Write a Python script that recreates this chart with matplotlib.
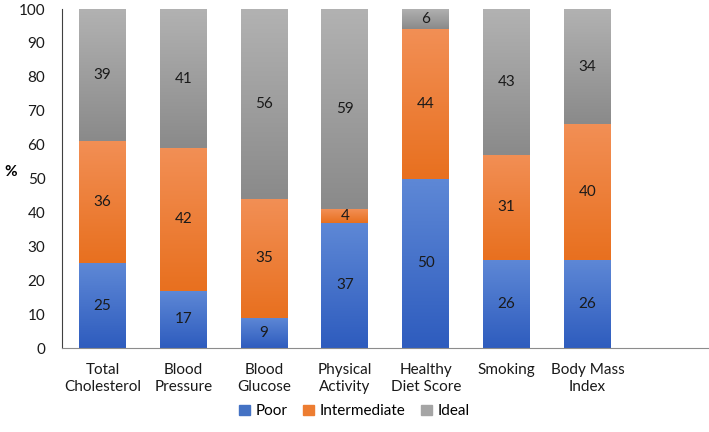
import numpy as np
import matplotlib.pyplot as plt
import matplotlib.colors as mcolors

# Datos
categories = ['Total\nCholesterol', 'Blood\nPressure', 'Blood\nGlucose', 'Physical\nActivity',
              'Healthy\nDiet Score', 'Smoking', 'Body Mass\nIndex', '']
poor = [25, 17, 9, 37, 50, 26, 26]
intermediate = [36, 42, 35, 4, 44, 31, 40]
ideal = [39, 41, 56, 59, 6, 43, 34]
series_names = ['Poor', 'Intermediate', 'Ideal']

# colores (arriba claro, abajo oscuro)
grads = [('#5e88d6', '#2e5cbe'), ('#f28f55', '#e8701f'), ('#b2b2b2', '#8a8a8a')]
solid = ['#4472c4', '#ed7d31', '#a5a5a5']

plt.rcParams['font.family'] = ['Lato', 'DejaVu Sans']

fig = plt.figure(figsize=(7.09, 4.32), dpi=100)
ax = fig.add_axes([0.0875, 0.194, 0.912, 0.785])

x = np.arange(len(categories))
bottom = np.zeros(len(poor))
for vals, (top_c, bot_c), c, name in zip([poor, intermediate, ideal], grads, solid, series_names):
    bars = ax.bar(x[:len(vals)], vals, width=0.58, bottom=bottom, color=c, label=name)
    cmap = mcolors.LinearSegmentedColormap.from_list(name, [bot_c, top_c])
    grad = np.linspace(0, 1, 128).reshape(-1, 1)
    for b, v, y0 in zip(bars, vals, bottom):
        bx, by = b.get_x(), b.get_y()
        im = ax.imshow(grad, cmap=cmap, aspect='auto', origin='lower',
                       extent=[bx, bx + b.get_width(), by, by + b.get_height()], zorder=2)
        im.set_clip_path(b)
        b.set_alpha(0)
        ax.text(b.get_x() + b.get_width() / 2, y0 + v / 2, str(v), ha='center', va='center',
                fontsize=11, color='#1a1a1a', zorder=3)
    bottom = bottom + np.array(vals)

ax.set_xlim(-0.5, len(categories) - 0.5)
ax.set_ylim(0, 100)
ax.set_yticks(range(0, 101, 10))
ax.set_xticks(x)
ax.set_xticklabels(categories)
ax.tick_params(axis='both', length=0, labelsize=11, colors='#1a1a1a')
ax.tick_params(axis='x', pad=11)
ax.tick_params(axis='y', pad=12)
for s in ['top', 'right']:
    ax.spines[s].set_visible(False)
ax.spines['left'].set_color('#404040')
ax.spines['bottom'].set_color('#8c8c8c')
ax.set_ylabel('%', rotation=0, fontsize=11, fontweight='bold', labelpad=18)
ax.yaxis.set_label_coords(-0.08, 0.5)

handles = [plt.Rectangle((0, 0), 1, 1, color=c) for c in solid]
fig.legend(handles, series_names, loc='lower center', bbox_to_anchor=(0.5, 0.0), ncol=3,
           frameon=False, fontsize=11, handlelength=0.7, handleheight=0.7,
           handletextpad=0.4, columnspacing=1.0)

plt.savefig('out.png')
